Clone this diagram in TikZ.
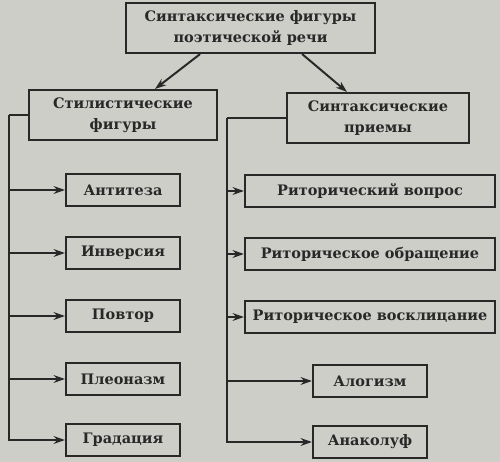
\documentclass[tikz,border=0pt]{standalone}
\usepackage{fontspec}
\setmainfont{DejaVu Serif}
\usetikzlibrary{positioning,arrows.meta}
\definecolor{paper}{RGB}{206,206,201}
\definecolor{ink}{RGB}{40,40,40}
\tikzset{box node/.style={rectangle,draw,line width=1.5pt,inner sep=0pt,align=center,font=\bfseries\fontsize{10.3}{15}\selectfont},
  root node/.style={box node,minimum width=6.225cm,minimum height=1.25cm},
  group node/.style={box node,minimum height=1.25cm},
  item node/.style={box node,minimum width=2.85cm,minimum height=0.8cm},
  wide node/.style={box node,minimum width=6.25cm,minimum height=0.8cm} }

\begin{document}
\begin{tikzpicture}[color=ink,line width=1.4pt,>={Stealth[length=8pt,width=5.5pt]}]
\fill[paper] (0,0) rectangle (12.5,-11.55);
\useasboundingbox (0,0) rectangle (12.5,-11.55);
\begin{scope}[on grid]

  \node[root node] (root) at (6.2625,-0.7) {Синтаксические фигуры\\поэтической речи};
  \node[group node,minimum width=4.7cm] (stil) [below left =2.175cm and 3.1875cm of root] {Стилистические\\фигуры};
  \node[group node,minimum width=4.55cm] (sint) [below right =2.25cm and 3.1875cm of root] {Синтаксические\\приемы};

  \node[item node] (s1) [below =1.875cm of stil] {Антитеза};
  \node[item node] (s2) [below =1.575cm of s1] {Инверсия};
  \node[item node] (s3) [below =1.575cm of s2] {Повтор};
  \node[item node] (s4) [below =1.575cm of s3] {Плеоназм};
  \node[item node] (s5) [below =1.525cm of s4] {Градация};

  \node[wide node] (p1) [below left =1.825cm and 0.2cm of sint] {Риторический вопрос};
  \node[wide node] (p2) [below =1.575cm of p1] {Риторическое обращение};
  \node[wide node] (p3) [below =1.575cm of p2] {Риторическое восклицание};
  \node[item node] (p4) [below =1.6cm of p3] {Алогизм};
  \node[item node] (p5) [below =1.525cm of p4] {Анаколуф};

\end{scope}

  \draw[->] ([xshift=-1.26cm]root.south) -- ([xshift=0.8cm]stil.north);
  \draw[->] ([xshift=1.29cm]root.south) -- ([xshift=-0.775cm]sint.north);

  \coordinate (ltrunk) at ([xshift=-0.475cm]stil.west);
  \coordinate (rtrunk) at ([xshift=-1.475cm]sint.west);
  \draw (stil.west) -- (ltrunk);
  \draw (sint.west) -- (rtrunk);
  \foreach \n in {s1,s2,s3,s4,s5}
    \draw[->] (ltrunk) |- (\n.west);
  \foreach \n in {p1,p2,p3,p4,p5}
    \draw[->] (rtrunk) |- (\n.west);
\end{tikzpicture}
\end{document}
